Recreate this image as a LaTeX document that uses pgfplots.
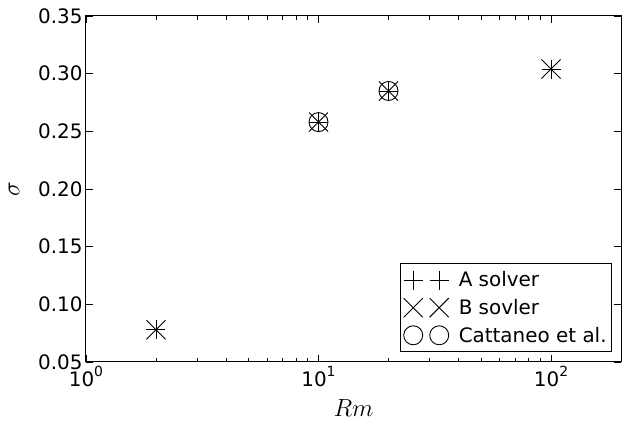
\documentclass[border=0pt]{standalone}
\usepackage{fontspec}
\setmainfont{DejaVu Sans}
\usepackage{pgfplots}
\pgfplotsset{compat=1.18}
\newcommand{\tp}[1]{10\raisebox{0.5em}{\fontsize{14}{14}\selectfont #1}}
\pgfplotsset{twomarks/.style={legend image code/.code={\draw[##1] plot[only marks] coordinates {(0bp,0bp) (26bp,0bp)};}}}
\begin{document}
\begin{tikzpicture}
\begin{axis}[
  scale only axis,
  width=535bp, height=346bp,
  xmode=log, xmin=1, xmax=200,
  ymin=0.05, ymax=0.35,
  xtick={1,10,100},
  xticklabels={\tp{0},\tp{1},\tp{2}},
  ytick={0.05,0.10,0.15,0.20,0.25,0.30,0.35},
  yticklabels={0.05,0.10,0.15,0.20,0.25,0.30,0.35},
  tick label style={font=\fontsize{20}{22}\selectfont},
  xticklabel style={yshift=-1bp},
  tick align=inside,
  major tick length=7bp, minor tick length=4bp,
  every tick/.style={black, line width=0.8bp},
  axis line style={line width=1bp},
  xlabel={$Rm$}, ylabel={$\sigma$},
  label style={font=\fontsize{28}{30}\selectfont},
  xlabel style={yshift=-6bp},
  ylabel style={yshift=12bp},
  legend style={at={(1,0)}, anchor=south east, xshift=-9bp, yshift=10bp,
    draw=black, line width=0.8bp, font=\fontsize{20}{22}\selectfont,
    legend cell align=left, inner xsep=3bp, inner ysep=6bp, row sep=7bp, column sep=8bp},
]
\addplot[only marks, mark=+, mark size=9.5bp, line width=0.9bp, black, twomarks]
  coordinates {(2,0.078) (10,0.258) (20,0.285) (100,0.304)};
\addlegendentry{A solver}
\addplot[only marks, mark=x, mark size=13.5bp, line width=0.9bp, black, twomarks]
  coordinates {(2,0.078) (10,0.258) (20,0.285) (100,0.304)};
\addlegendentry{B sovler}
\addplot[only marks, mark=o, mark size=9.5bp, line width=0.9bp, black,
  mark options={fill=none}, twomarks]
  coordinates {(10,0.258) (20,0.285)};
\addlegendentry{Cattaneo et al.}
\end{axis}
\path (current axis.south west) ++(-86bp,-59bp);
\path (current axis.north east) ++(1bp,16bp);
\end{tikzpicture}
\end{document}
